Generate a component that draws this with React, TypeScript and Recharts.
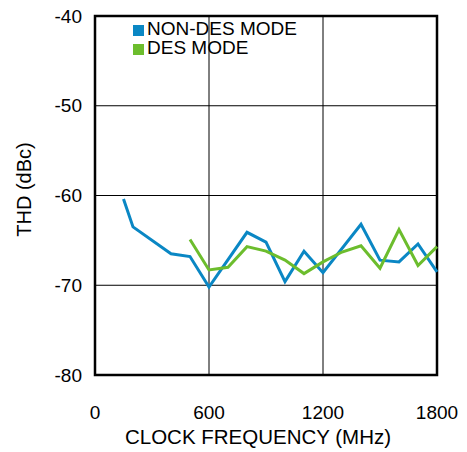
import React from 'react';
import {
  LineChart,
  Line,
  XAxis,
  YAxis,
  CartesianGrid,
  ReferenceArea,
} from 'recharts';

// THD vs clock frequency
const nonDesFreq = [150, 200, 400, 500, 600, 800, 900, 1000, 1100, 1200, 1400, 1500, 1600, 1700, 1800];
const nonDesThd = [-60.4, -63.5, -66.5, -66.8, -70.2, -64.1, -65.2, -69.6, -66.2, -68.6, -63.2, -67.2, -67.4, -65.4, -68.5];

const desFreq = [500, 600, 700, 800, 900, 1000, 1100, 1200, 1300, 1400, 1500, 1600, 1700, 1800];
const desThd = [-64.9, -68.3, -68.0, -65.7, -66.2, -67.2, -68.7, -67.4, -66.3, -65.6, -68.1, -63.8, -67.8, -65.7];

const xTicks = [0, 600, 1200, 1800];
const yTicks = [-80, -70, -60, -50, -40];

const nonDesData = nonDesFreq.map((f, i) => ({ freq: f, thd: nonDesThd[i] }));
const desData = desFreq.map((f, i) => ({ freq: f, thd: desThd[i] }));

const FONT = 'Arial, "Liberation Sans", Helvetica, sans-serif';
const BLUE = '#0a87c4';
const GREEN = '#6cbd2d';

const series = [
  { name: 'NON-DES MODE', color: BLUE },
  { name: 'DES MODE', color: GREEN },
];

export default function App() {
  return (
    <div style={{ position: 'absolute', left: 0, top: 0, fontFamily: FONT }}>
      <LineChart
        width={467}
        height={452}
        margin={{ top: 16, right: 30, bottom: 0, left: 0 }}
      >
        <CartesianGrid
          stroke="#000"
          strokeWidth={1}
          horizontalValues={[-70, -60, -50]}
          verticalValues={[600, 1200]}
        />
        <XAxis
          type="number"
          dataKey="freq"
          domain={[0, 1800]}
          ticks={xTicks}
          height={77}
          tickSize={0}
          tickMargin={31}
          axisLine={false}
          tick={{ fill: '#000', fontSize: 19, fontFamily: FONT }}
          label={{
            value: 'CLOCK FREQUENCY (MHz)',
            position: 'insideBottom',
            offset: 8,
            dx: -8,
            fill: '#000',
            fontSize: 20.5,
            fontFamily: FONT,
          }}
        />
        <YAxis
          type="number"
          domain={[-80, -40]}
          ticks={yTicks}
          width={95}
          tickSize={0}
          tickMargin={13}
          axisLine={false}
          tick={{ fill: '#000', fontSize: 19, fontFamily: FONT }}
          label={{
            value: 'THD (dBc)',
            angle: -90,
            position: 'center',
            dx: -24,
            dy: -6,
            fill: '#000',
            fontSize: 20,
            fontFamily: FONT,
          }}
        />
        <ReferenceArea
          x1={0}
          x2={1800}
          y1={-80}
          y2={-40}
          fill="none"
          stroke="#000"
          strokeWidth={2.5}
          ifOverflow="visible"
        />
        <Line
          data={nonDesData}
          dataKey="thd"
          name="NON-DES MODE"
          stroke={BLUE}
          strokeWidth={3}
          dot={false}
          activeDot={false}
          type="linear"
          isAnimationActive={false}
        />
        <Line
          data={desData}
          dataKey="thd"
          name="DES MODE"
          stroke={GREEN}
          strokeWidth={3}
          dot={false}
          activeDot={false}
          type="linear"
          isAnimationActive={false}
        />
      </LineChart>

      {/* legend sits inside the plot, top-left */}
      <div
        style={{
          position: 'absolute',
          left: 133,
          top: 19,
          fontSize: 19,
          lineHeight: '19px',
          color: '#000',
        }}
      >
        {series.map((s) => (
          <div key={s.name} style={{ display: 'flex', alignItems: 'center' }}>
            <span
              style={{
                width: 11,
                height: 11,
                background: s.color,
                marginRight: 3,
                display: 'inline-block',
                position: 'relative',
                top: 1.5,
              }}
            />
            <span>{s.name}</span>
          </div>
        ))}
      </div>
    </div>
  );
}
